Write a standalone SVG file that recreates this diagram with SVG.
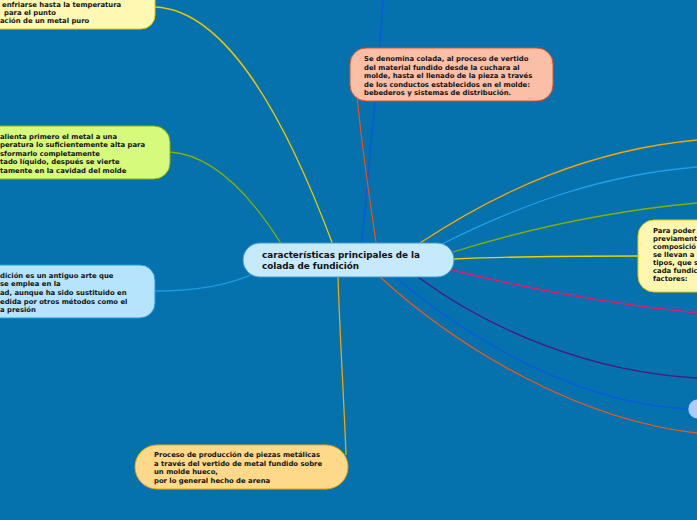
<svg xmlns="http://www.w3.org/2000/svg" width="697" height="520" viewBox="0 0 697 520">
<style>
.t{font-family:"DejaVu Sans","Liberation Sans",sans-serif;font-weight:bold;font-size:6.85px;fill:#111}
.c{font-family:"DejaVu Sans","Liberation Sans",sans-serif;font-weight:bold;font-size:8.8px;fill:#111}
.l{fill:none;stroke-width:1.3}
</style>
<rect width="697" height="520" fill="#0571ad"/>
<g id="connectors">
<path class="l" stroke="#0a58e0" d="M383,0 C378,80 368,170 362,243"/>
<path class="l" stroke="#e8501a" d="M357,95 C362,150 370,200 376,243"/>
<path class="l" stroke="#e8c800" d="M155,7 C230,10 290,130 333,245"/>
<path class="l" stroke="#84b000" d="M170,152 C220,155 260,210 282,245"/>
<path class="l" stroke="#1a9ee0" d="M155,291 C200,291 235,283 257,272"/>
<path class="l" stroke="#f0a800" d="M338,277 C340,340 344,400 346,455"/>
<path class="l" stroke="#f5a800" d="M420,243 C500,190 590,150 697,140"/>
<path class="l" stroke="#1ea0ea" d="M440,245 C520,205 600,175 697,167"/>
<path class="l" stroke="#84b000" d="M453,252 C540,225 620,210 697,203"/>
<path class="l" stroke="#f0d000" d="M454,259 C520,256 580,256 638,256"/>
<path class="l" stroke="#f0146a" d="M452,270 C540,292 620,305 697,313"/>
<path class="l" stroke="#4a1880" d="M418,277 C490,330 590,372 697,378"/>
<path class="l" stroke="#0a5ae0" d="M395,277 C470,340 580,405 690,409"/>
<path class="l" stroke="#e85a1a" d="M380,277 C460,350 580,420 697,433"/>
</g>
<g id="n-top-left">
<rect x="-30" y="-20" width="185" height="49" rx="14" fill="#fff8b2" stroke="#e8c800" stroke-width="1"/>
<text class="t"><tspan x="2" y="7">enfriarse hasta la temperatura</tspan><tspan x="4" y="15">para el punto</tspan><tspan x="0" y="23">ación de un metal puro</tspan></text>
</g>
<g id="n-green">
<rect x="-30" y="126" width="200" height="53" rx="16" fill="#d6fa7c" stroke="#8ab400" stroke-width="1"/>
<text class="t"><tspan x="0" y="139">alienta primero el metal a una</tspan><tspan x="0" y="147">peratura lo suficientemente alta para</tspan><tspan x="0" y="156">sformarlo completamente</tspan><tspan x="0" y="164">tado líquido, después se vierte</tspan><tspan x="0" y="173">tamente en la cavidad del molde</tspan></text>
</g>
<g id="n-blue-left">
<rect x="-30" y="265" width="185" height="53" rx="15" fill="#b6e4fc" stroke="#1a9ee0" stroke-width="1"/>
<text class="t"><tspan x="0" y="278">dición es un antiguo arte que</tspan><tspan x="0" y="286">se emplea en la</tspan><tspan x="0" y="295">ad, aunque ha sido sustituido en</tspan><tspan x="0" y="304">edida por otros métodos como el</tspan><tspan x="0" y="312">a presión</tspan></text>
</g>
<g id="n-colada">
<rect x="350" y="48" width="203" height="53" rx="16" fill="#fbbfa8" stroke="#e8501a" stroke-width="1"/>
<text class="t"><tspan x="364" y="61">Se denomina colada, al proceso de vertido</tspan><tspan x="364" y="70">del material fundido desde la cuchara al</tspan><tspan x="364" y="78">molde, hasta el llenado de la pieza a través</tspan><tspan x="364" y="87">de los conductos establecidos en el molde:</tspan><tspan x="364" y="95">bebederos y sistemas de distribución.</tspan></text>
</g>
<g id="n-right-yellow">
<rect x="638" y="220" width="90" height="72" rx="16" fill="#fff6b0" stroke="#e8c800" stroke-width="1"/>
<text class="t"><tspan x="653" y="233">Para poder</tspan><tspan x="653" y="241">previament</tspan><tspan x="653" y="249">composició</tspan><tspan x="653" y="257">se llevan a</tspan><tspan x="653" y="265">tipos, que s</tspan><tspan x="653" y="273">cada fundic</tspan><tspan x="653" y="281">factores:</tspan></text>
</g>
<g id="n-small-blue">
<rect x="688" y="399" width="40" height="20" rx="10" fill="#a8cdfa" stroke="#0a5ae0" stroke-width="0.6"/>
</g>
<g id="n-bottom">
<rect x="135" y="445" width="213" height="44" rx="22" fill="#ffd98a" stroke="#f0a800" stroke-width="1"/>
<text class="t"><tspan x="154" y="457">Proceso de producción de piezas metálicas</tspan><tspan x="154" y="466">a través del vertido de metal fundido sobre</tspan><tspan x="154" y="474">un molde hueco,</tspan><tspan x="154" y="483">por lo general hecho de arena</tspan></text>
</g>
<g id="n-central">
<rect x="243" y="243" width="211" height="34" rx="17" fill="#c6eafc" stroke="#3a9ad8" stroke-width="1"/>
<text class="c"><tspan x="262" y="258">características principales de la</tspan><tspan x="262" y="269">colada de fundición</tspan></text>
</g>
</svg>
